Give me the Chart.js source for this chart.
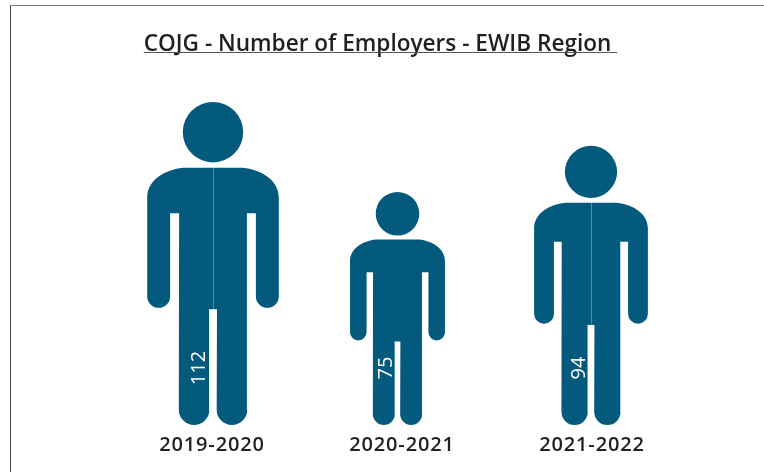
<!DOCTYPE html>
<html><head><meta charset="utf-8">
<style>
html,body{margin:0;padding:0;background:#fff;overflow:hidden}
#wrap{position:absolute;left:0;top:0;width:764px;height:472px}
</style>
<script src="https://cdn.jsdelivr.net/npm/chart.js@4"></script>
</head><body>
<div id="wrap"><canvas id="c" width="764" height="472"></canvas></div>
<script>
const chartTitle = 'COJG - Number of Employers - EWIB Region ';
const categories = ['2019-2020', '2020-2021', '2021-2022'];
const employers = [112, 75, 94];
const personNudge = [1, -4.5, -1];
const labelNudge = [-14, -11, -12];
const seamVisible = [true, false, true];
const figureColor = '#045a7c';
const fontFamily = '"Open Sans", Roboto, sans-serif';

function personPath(ctx, cx, top, H) {
  const s = H / 324;
  const X = d => cx + d * s, Y = d => top + d * s;
  ctx.beginPath();
  ctx.arc(X(0), Y(30.3), 30.3 * s, 0, Math.PI * 2);
  ctx.closePath();
  ctx.moveTo(X(-30), Y(66));
  ctx.lineTo(X(30), Y(66));
  ctx.bezierCurveTo(X(48), Y(68), X(66), Y(78), X(66), Y(96));
  ctx.lineTo(X(66), Y(195));
  ctx.arc(X(54.5), Y(195), 11.5 * s, 0, Math.PI);
  ctx.lineTo(X(43), Y(111.5));
  ctx.lineTo(X(34), Y(111.5));
  ctx.lineTo(X(34), Y(308.7));
  ctx.arc(X(19), Y(308.7), 15.3 * s, 0, Math.PI);
  ctx.lineTo(X(4), Y(208));
  ctx.lineTo(X(-4), Y(208));
  ctx.lineTo(X(-4), Y(308.7));
  ctx.arc(X(-19), Y(308.7), 15.3 * s, 0, Math.PI);
  ctx.lineTo(X(-34), Y(111.5));
  ctx.lineTo(X(-43), Y(111.5));
  ctx.lineTo(X(-43), Y(195));
  ctx.arc(X(-54.5), Y(195), 11.5 * s, 0, Math.PI);
  ctx.lineTo(X(-66), Y(96));
  ctx.bezierCurveTo(X(-66), Y(78), X(-48), Y(68), X(-30), Y(66));
  ctx.closePath();
}

const personPlugin = {
  id: 'person',
  beforeDraw(chart) {
    const ctx = chart.ctx;
    ctx.letterSpacing = '0px';
    ctx.save();
    ctx.fillStyle = '#fff';
    ctx.fillRect(0, 0, chart.width, chart.height);
    ctx.lineWidth = 1;
    ctx.strokeStyle = '#808080';
    ctx.beginPath();
    ctx.moveTo(10, 5.5); ctx.lineTo(764, 5.5);
    ctx.stroke();
    ctx.strokeStyle = '#4a4a4a';
    ctx.beginPath();
    ctx.moveTo(10.5, 472); ctx.lineTo(10.5, 6);
    ctx.stroke();
    ctx.restore();
  },
  afterDatasetsDraw(chart) {
    const ctx = chart.ctx;
    const meta = chart.getDatasetMeta(0);
    const bottom = chart.chartArea.bottom;
    meta.data.forEach((bar, i) => {
      const cx = bar.x + personNudge[i];
      const H = bottom - bar.y;
      const s = H / 324;
      ctx.save();
      ctx.fillStyle = figureColor;
      personPath(ctx, cx, bar.y, H);
      ctx.fill();
      if (seamVisible[i]) {
        ctx.strokeStyle = 'rgba(255,255,255,0.3)';
        ctx.lineWidth = 1;
        ctx.beginPath();
        ctx.moveTo(Math.round(cx) + 0.5, bar.y + 66 * s);
        ctx.lineTo(Math.round(cx) + 0.5, bar.y + 208 * s);
        ctx.stroke();
      }
      ctx.translate(cx + labelNudge[i], bottom - 57);
      ctx.rotate(-Math.PI / 2);
      ctx.fillStyle = '#fff';
      ctx.font = '20px ' + fontFamily;
      ctx.textAlign = 'center';
      ctx.textBaseline = 'middle';
      ctx.fillText(String(employers[i]), 0, 0);
      ctx.restore();
    });
    ctx.letterSpacing = '0.85px';
  },
  afterDraw(chart) {
    const ctx = chart.ctx, t = chart.titleBlock;
    ctx.letterSpacing = '0px';
    ctx.save();
    ctx.font = Chart.helpers.toFont(t.options.font).string;
    const w = ctx.measureText(chartTitle).width;
    const cx = (t.left + t.right) / 2;
    ctx.strokeStyle = '#555';
    ctx.lineWidth = 1;
    ctx.beginPath();
    ctx.moveTo(cx - w / 2, 52.5); ctx.lineTo(cx + w / 2, 52.5);
    ctx.stroke();
    ctx.restore();
  }
};

const hiddenAxis = (position, width) => ({
  position, min: -20.8, max: 121.6,
  grid: { display: false }, border: { display: false },
  ticks: { display: false },
  afterFit(axis) { axis.width = width; }
});

new Chart(document.getElementById('c'), {
  type: 'bar',
  data: {
    labels: categories,
    datasets: [{ label: 'Employers', data: employers, backgroundColor: 'rgba(0,0,0,0)', borderWidth: 0, base: -20.8, yAxisID: 'y' }]
  },
  options: {
    responsive: false,
    animation: false,
    layout: { padding: { left: 0, right: 3, top: 0, bottom: 15 } },
    plugins: {
      legend: { display: false },
      tooltip: { enabled: false },
      title: {
        display: true, text: chartTitle, color: '#231f20',
        font: { family: fontFamily, size: 22.6, weight: '600' },
        padding: { top: 31, bottom: 20.5 }, align: 'center'
      }
    },
    scales: {
      x: {
        grid: { display: false }, border: { display: false },
        ticks: { color: '#231f20', font: { family: fontFamily, size: 20, weight: '600' }, maxRotation: 0, padding: 0, z: 1 }
      },
      y: hiddenAxis('left', 117),
      yR: hiddenAxis('right', 74)
    }
  },
  plugins: [personPlugin]
});
</script>
</body></html>
